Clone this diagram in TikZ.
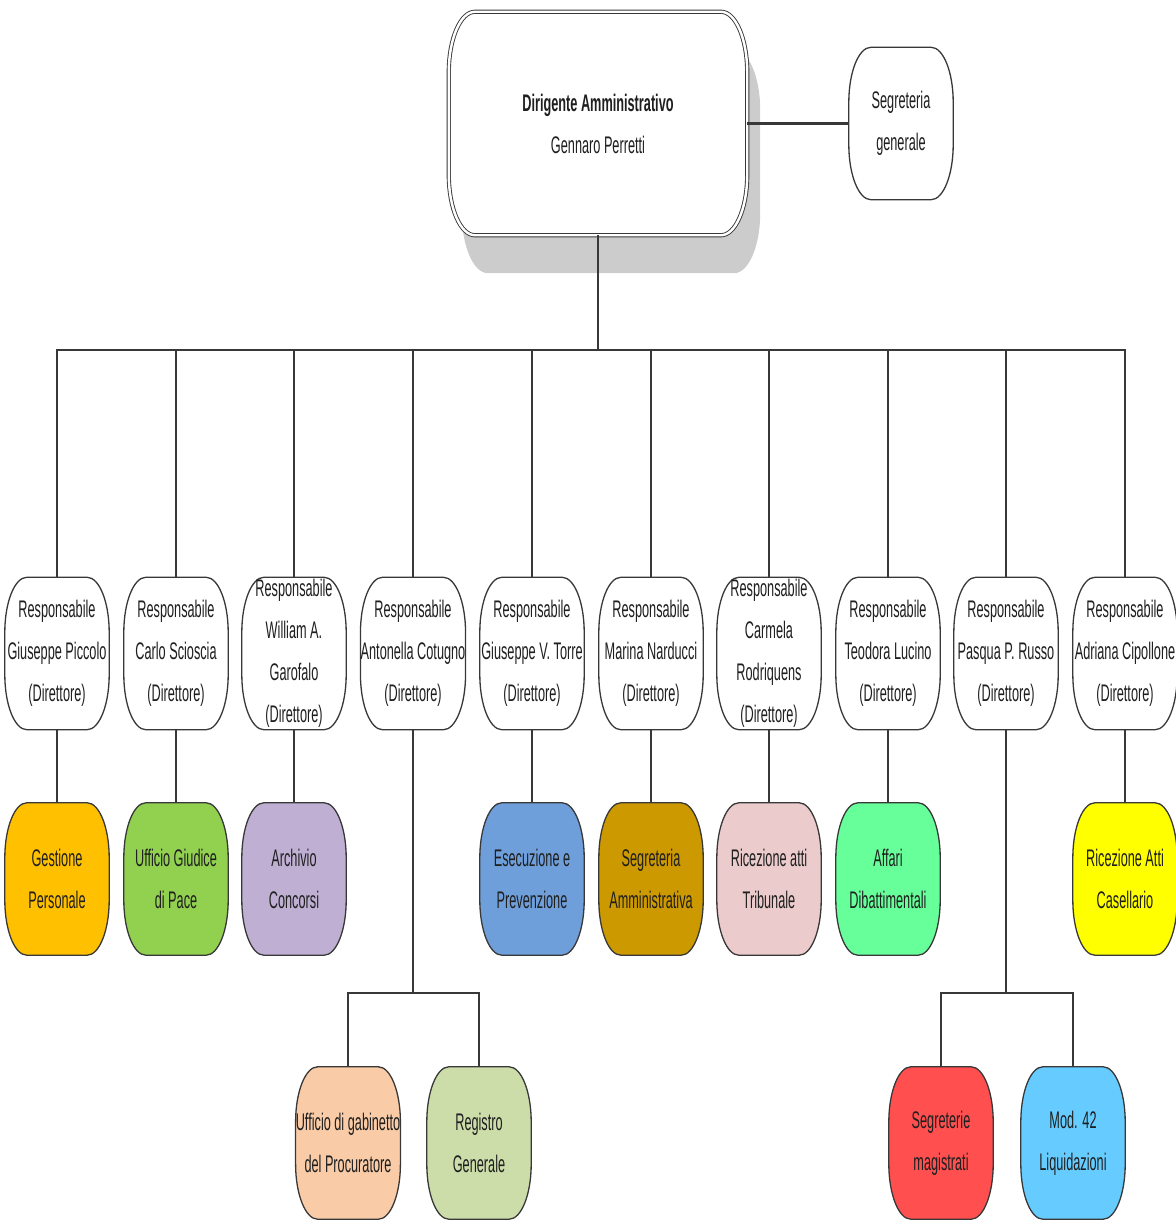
\documentclass[tikz,border=0pt]{standalone}
\usepackage{fontspec}
\setmainfont[FakeStretch=0.53]{Liberation Sans}
\usetikzlibrary{calc,backgrounds}
\definecolor{cGest}{HTML}{FFC000}
\definecolor{cUffGP}{HTML}{92D050}
\definecolor{cArch}{HTML}{BFB0D3}
\definecolor{cEsec}{HTML}{6F9FDA}
\definecolor{cSegAm}{HTML}{CC9900}
\definecolor{cRicTr}{HTML}{EBCBCB}
\definecolor{cAff}{HTML}{66FF99}
\definecolor{cRicCas}{HTML}{FFFF00}
\definecolor{cGab}{HTML}{F9CBA6}
\definecolor{cReg}{HTML}{CCDDAA}
\definecolor{cSegMag}{HTML}{FF4F4F}
\definecolor{cMod}{HTML}{66CCFF}
\definecolor{lineC}{HTML}{383838}
\newcommand\barrel[4][]{%
 \draw[boxline,#1] ($(#2.north west)+(#3,0)$) -- ($(#2.north east)+(-#3,0)$)
 .. controls ($(#2.north east)+(-0.45*#3,0)$) and ($(#2.north east)+(0,0.45*#4)$) .. ($(#2.north east)+(0,#4)$)
 -- ($(#2.south east)+(0,-#4)$)
 .. controls ($(#2.south east)+(0,-0.45*#4)$) and ($(#2.south east)+(-0.45*#3,0)$) .. ($(#2.south east)+(-#3,0)$)
 -- ($(#2.south west)+(#3,0)$)
 .. controls ($(#2.south west)+(0.45*#3,0)$) and ($(#2.south west)+(0,-0.45*#4)$) .. ($(#2.south west)+(0,-#4)$)
 -- ($(#2.north west)+(0,#4)$)
 .. controls ($(#2.north west)+(0,0.45*#4)$) and ($(#2.north west)+(0.45*#3,0)$) .. ($(#2.north west)+(#3,0)$) -- cycle;}
\tikzset{
 lbl/.style={align=center, font=\fontsize{24}{42}\selectfont, text=black!88, inner sep=0pt},
 unit/.style={lbl, minimum width=104pt, minimum height=152pt},
 boxline/.style={draw=lineC, line width=1.3pt},
 conn/.style={draw=lineC, line width=1.4pt},
}
\begin{document}
\begin{tikzpicture}[x=1pt,y=-1pt]
\useasboundingbox (0,0) rectangle (1175,1220);
% top
\node[lbl, minimum width=298pt, minimum height=223pt] (top) at (598,123.5) {\textbf{Dirigente Amministrativo}\\Gennaro Perretti};
\node[minimum width=298pt, minimum height=223pt, inner sep=0pt] (topsh) at (611,161.5) {};
\node[unit] (seg) at (901,123.5) {Segreteria\\generale};
% managers
\node[unit] (m1) at (57,653.5) {Responsabile\\Giuseppe Piccolo\\(Direttore)};
\node[unit] (m2) at (176,653.5) {Responsabile\\Carlo Scioscia\\(Direttore)};
\node[unit] (m3) at (294,653.5) {Responsabile\\William A.\\Garofalo\\(Direttore)};
\node[unit] (m4) at (413,653.5) {Responsabile\\Antonella Cotugno\\(Direttore)};
\node[unit] (m5) at (532,653.5) {Responsabile\\Giuseppe V. Torre\\(Direttore)};
\node[unit] (m6) at (651,653.5) {Responsabile\\Marina Narducci\\(Direttore)};
\node[unit] (m7) at (769,653.5) {Responsabile\\Carmela\\Rodriquens\\(Direttore)};
\node[unit] (m8) at (888,653.5) {Responsabile\\Teodora Lucino\\(Direttore)};
\node[unit] (m9) at (1006,653.5) {Responsabile\\Pasqua P. Russo\\(Direttore)};
\node[unit] (m10) at (1125,653.5) {Responsabile\\Adriana Cipollone\\(Direttore)};
% offices
\node[unit] (u1) at (57,879) {Gestione\\Personale};
\node[unit] (u2) at (176,879) {Ufficio Giudice\\di Pace};
\node[unit] (u3) at (294,879) {Archivio\\Concorsi};
\node[unit] (u5) at (532,879) {Esecuzione e\\Prevenzione};
\node[unit] (u6) at (651,879) {Segreteria\\Amministrativa};
\node[unit] (u7) at (769,879) {Ricezione atti\\Tribunale};
\node[unit] (u8) at (888,879) {Affari\\Dibattimentali};
\node[unit] (u10) at (1125,879) {Ricezione Atti\\Casellario};
\node[unit] (g1) at (348,1143) {Ufficio di gabinetto\\del Procuratore};
\node[unit] (g2) at (479,1143) {Registro\\Generale};
\node[unit] (r1) at (941,1143) {Segreterie\\magistrati};
\node[unit] (r2) at (1073,1143) {Mod. 42\\Liquidazioni};
\begin{pgfonlayer}{background}
 \barrel[draw=none,fill=black!20]{topsh}{26}{60}
 \barrel[fill=white,double=white,double distance=2.4pt,line width=0.9pt]{top}{26}{60}
 \barrel[fill=white]{seg}{22}{55}
 \foreach \m in {m1,m2,m3,m4,m5,m6,m7,m8,m9,m10}{\barrel[fill=white]{\m}{22}{55}}
 \barrel[fill=cGest]{u1}{22}{55}
 \barrel[fill=cUffGP]{u2}{22}{55}
 \barrel[fill=cArch]{u3}{22}{55}
 \barrel[fill=cEsec]{u5}{22}{55}
 \barrel[fill=cSegAm]{u6}{22}{55}
 \barrel[fill=cRicTr]{u7}{22}{55}
 \barrel[fill=cAff]{u8}{22}{55}
 \barrel[fill=cRicCas]{u10}{22}{55}
 \barrel[fill=cGab]{g1}{22}{55}
 \barrel[fill=cReg]{g2}{22}{55}
 \barrel[fill=cSegMag]{r1}{22}{55}
 \barrel[fill=cMod]{r2}{22}{55}
\end{pgfonlayer}
% connectors
\draw[conn, line width=2.6pt] (top.east) -- (seg.west);
\coordinate (bus) at (598,350);
\draw[conn] (top.south) -- (bus);
\foreach \m in {m1,m2,m3,m4,m5,m6,m7,m8,m9,m10}{\draw[conn] (bus) -| (\m.north);}
\foreach \a/\b in {m1/u1,m2/u2,m3/u3,m5/u5,m6/u6,m7/u7,m8/u8,m10/u10}{\draw[conn] (\a.south) -- (\b.north);}
\coordinate (b4) at (413,993);
\coordinate (b9) at (1006,993);
\draw[conn] (m4.south) -- (b4);
\draw[conn] (b4) -| (g1.north);
\draw[conn] (b4) -| (g2.north);
\draw[conn] (m9.south) -- (b9);
\draw[conn] (b9) -| (r1.north);
\draw[conn] (b9) -| (r2.north);
\end{tikzpicture}
\end{document}
